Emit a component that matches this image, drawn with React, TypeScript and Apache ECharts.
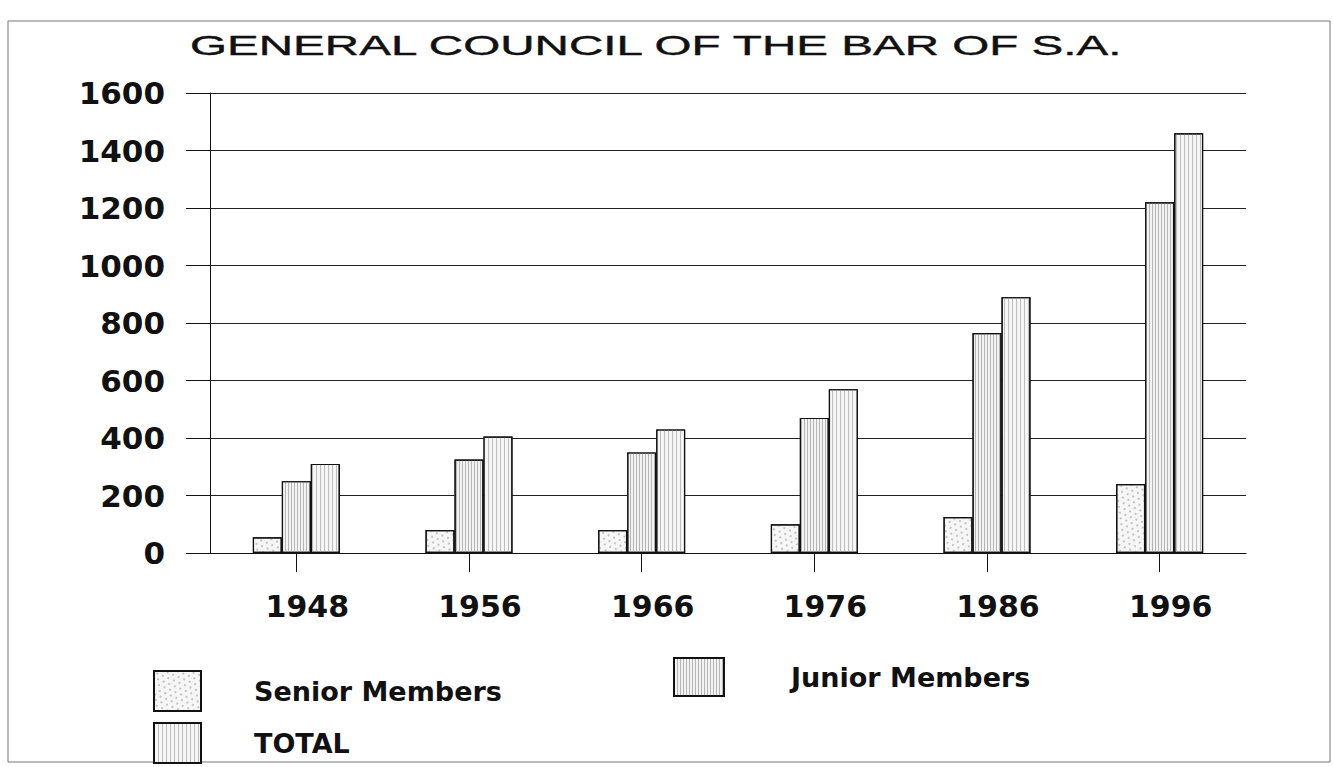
import { useEffect, useRef } from 'react';
import * as echarts from 'echarts';

const years = ['1948', '1956', '1966', '1976', '1986', '1996'];
const seniorMembers = [55, 80, 80, 100, 125, 240];
const juniorMembers = [250, 325, 350, 470, 765, 1220];
const totalMembers = [310, 405, 430, 570, 890, 1460];
const yMin = 0;
const yMax = 1600;
const yInterval = 200;
const titleText = 'GENERAL COUNCIL OF THE BAR OF S.A.';

export default function App() {
  const ref = useRef<HTMLDivElement>(null);
  useEffect(() => {
    const chart = echarts.init(ref.current!, null, { renderer: 'svg' });
    const labelFont = { fontFamily: 'DejaVu Sans', fontWeight: 'bold' as const, color: '#111' };
    const legendText = { ...labelFont, fontSize: 27 };
    chart.setOption({
      animation: false,
      backgroundColor: '#fff',
      graphic: [
        {
          type: 'rect',
          shape: { x: 8, y: 21, width: 1322, height: 741 },
          style: { fill: 'none', stroke: '#777', lineWidth: 1 },
          z: -10,
        },
        {
          type: 'text',
          x: 190,
          y: 45,
          scaleX: 1.7,
          style: {
            text: titleText,
            fontSize: 28,
            fontFamily: 'Liberation Sans',
            fill: '#111',
            stroke: '#111',
            lineWidth: 0.4,
            verticalAlign: 'middle',
          },
        },
      ],
      grid: { left: 210, right: 87, top: 93, bottom: 214 },
      xAxis: {
        type: 'category',
        data: years,
        boundaryGap: true,
        axisLine: { show: true, lineStyle: { color: '#111', width: 1 } },
        axisTick: { show: true, alignWithLabel: true, length: 19, lineStyle: { color: '#111' } },
        axisLabel: { ...labelFont, fontSize: 30, margin: 38, padding: [0, 0, 0, 22] },
      },
      yAxis: {
        type: 'value',
        min: yMin,
        max: yMax,
        interval: yInterval,
        axisLine: { show: true, lineStyle: { color: '#111', width: 1 } },
        axisTick: { show: true, inside: false, length: 24, lineStyle: { color: '#111' } },
        axisLabel: { ...labelFont, fontSize: 31, margin: 45, formatter: (v: number) => String(v) },
        splitLine: { show: true, lineStyle: { color: '#222', width: 1 } },
      },
      legend: [
        {
          data: ['Senior Members'],
          left: 148,
          top: 665,
          itemWidth: 47,
          itemHeight: 40,
          icon: 'rect',
          selectedMode: false,
          textStyle: { ...legendText, padding: [0, 0, 0, 48] },
        },
        {
          data: ['Junior Members'],
          left: 668,
          top: 652,
          itemWidth: 50,
          itemHeight: 38,
          icon: 'rect',
          selectedMode: false,
          textStyle: { ...legendText, padding: [0, 0, 0, 62] },
        },
        {
          data: ['TOTAL'],
          left: 148,
          top: 717,
          itemWidth: 47,
          itemHeight: 40,
          icon: 'rect',
          selectedMode: false,
          textStyle: { ...legendText, padding: [0, 0, 0, 48] },
        },
      ],
      series: [
        {
          name: 'Senior Members',
          type: 'bar',
          data: seniorMembers,
          barWidth: 29,
          barGap: '0%',
          itemStyle: {
            color: '#f6f6f6',
            borderColor: '#111',
            borderWidth: 1.2,
            decal: {
              symbol: 'circle',
              symbolSize: 0.7,
              dashArrayX: [[2, 4], [0, 3, 2, 1]],
              dashArrayY: [2, 3],
              rotation: 0.4,
              color: '#777',
            },
          },
        },
        {
          name: 'Junior Members',
          type: 'bar',
          data: juniorMembers,
          barWidth: 29,
          barGap: '0%',
          itemStyle: {
            color: '#f3f3f3',
            borderColor: '#111',
            borderWidth: 1.2,
            decal: {
              symbol: 'rect',
              symbolSize: 1,
              dashArrayX: [1, 2],
              dashArrayY: [10, 0],
              rotation: 0,
              color: '#b5b5b5',
            },
          },
        },
        {
          name: 'TOTAL',
          type: 'bar',
          data: totalMembers,
          barWidth: 29,
          barGap: '0%',
          itemStyle: {
            color: '#f6f6f6',
            borderColor: '#111',
            borderWidth: 1.2,
            decal: {
              symbol: 'rect',
              symbolSize: 1,
              dashArrayX: [1, 3],
              dashArrayY: [10, 0],
              rotation: 0,
              color: '#bdbdbd',
            },
          },
        },
      ],
    });
    return () => chart.dispose();
  }, []);
  return (
    <div
      ref={ref}
      style={{ position: 'fixed', left: 0, top: 0, width: 1333, height: 767, background: '#fff' }}
    />
  );
}
